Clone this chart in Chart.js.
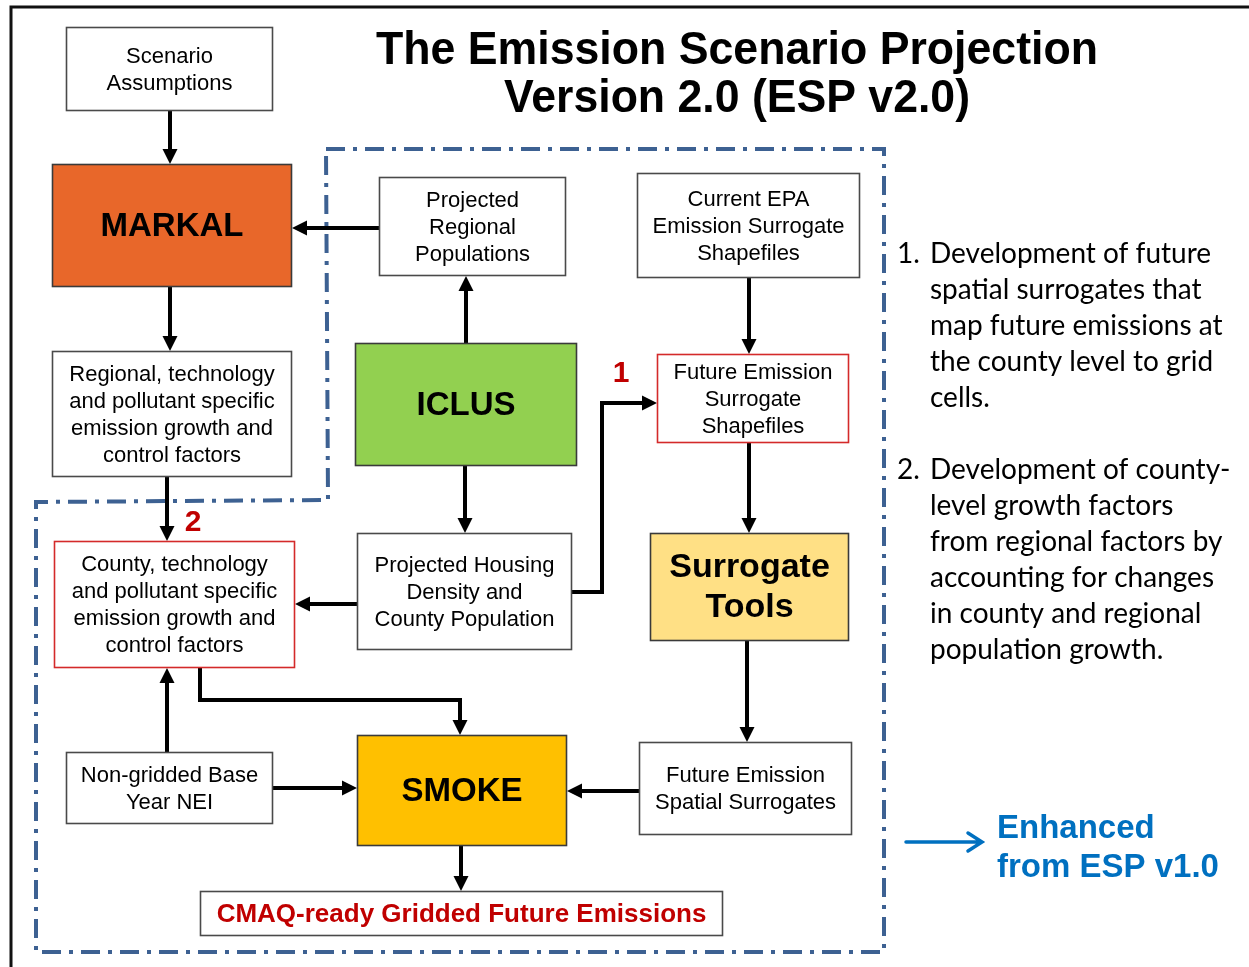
<!DOCTYPE html>
<html>
<head>
<meta charset="utf-8">
<title>ESP v2.0</title>
<script src="https://cdn.jsdelivr.net/npm/chart.js@4.4.1/dist/chart.umd.min.js"></script>
<style>
  html, body { margin: 0; padding: 0; background: #fff; }
  #wrap { width: 1249px; height: 967px; }
</style>
</head>
<body>
<div id="wrap"><canvas id="flow" width="1249" height="967"></canvas></div>
<script>
// --- diagram content (coordinates in axis units, y grows downward) ---
var boxLabels = [
  ['Scenario', 'Assumptions'],
  ['MARKAL'],
  ['Projected', 'Regional', 'Populations'],
  ['Current EPA', 'Emission Surrogate', 'Shapefiles'],
  ['Regional, technology', 'and pollutant specific', 'emission growth and', 'control factors'],
  ['ICLUS'],
  ['Future Emission', 'Surrogate', 'Shapefiles'],
  ['County, technology', 'and pollutant specific', 'emission growth and', 'control factors'],
  ['Projected Housing', 'Density and', 'County Population'],
  ['Surrogate', 'Tools'],
  ['Non-gridded Base', 'Year NEI'],
  ['SMOKE'],
  ['Future Emission', 'Spatial Surrogates'],
  ['CMAQ-ready Gridded Future Emissions']
];
var boxLeft   = [66, 52, 379, 637, 52, 355, 657, 54, 357, 650, 66, 357, 639, 200];
var boxTop    = [27, 164, 177, 173, 351, 343, 354, 541, 533, 533, 752, 735, 742, 891];
var boxRight  = [273, 292, 566, 860, 292, 577, 849, 295, 572, 849, 273, 567, 852, 723];
var boxBottom = [111, 287, 276, 278, 477, 466, 443, 668, 650, 641, 824, 846, 835, 936];
var boxKind   = ['plain', 'markal', 'plain', 'plain', 'plain', 'iclus', 'red', 'red', 'plain', 'tools', 'plain', 'smoke', 'plain', 'cmaq'];

// arrows: polyline points, arrowhead at the last point
var arrowPaths = [
  [[170, 111], [170, 164]],
  [[379, 228], [292, 228]],
  [[170, 287], [170, 351]],
  [[466, 343], [466, 276]],
  [[749, 278], [749, 354]],
  [[167, 477], [167, 541]],
  [[465, 466], [465, 533]],
  [[572, 592], [602, 592], [602, 403], [657, 403]],
  [[357, 604], [295, 604]],
  [[749, 443], [749, 533]],
  [[200, 668], [200, 700], [460, 700], [460, 735]],
  [[167, 752], [167, 668]],
  [[273, 788], [357, 788]],
  [[747, 641], [747, 742]],
  [[639, 791], [567, 791]],
  [[461, 846], [461, 891]]
];

// enhanced region outline (dash-dot)
var regionX = [326, 884, 884, 36, 36, 328, 326];
var regionY = [149, 149, 952, 952, 502, 500, 149];

var titleLines = ['The Emission Scenario Projection', 'Version 2.0 (ESP v2.0)'];
var markerLabels = ['1', '2'];
var markerX = [621, 193];
var markerY = [374, 523];

var noteNumbers = ['1.', '2.'];
var noteLines = [
  ['Development of future', 'spatial surrogates that', 'map future emissions at', 'the county level to grid', 'cells.'],
  ['Development of county-', 'level growth factors', 'from regional factors by', 'accounting for changes', 'in county and regional', 'population growth.']
];
var noteTop = [254, 470];
var legendLines = ['Enhanced', 'from ESP v1.0'];

// --- styles ---
var kindStyle = {
  plain:  { fill: '#ffffff', stroke: '#4a4a4a', font: '22px "Liberation Sans", Arial, sans-serif', color: '#000', lh: 27 },
  red:    { fill: '#ffffff', stroke: '#d42a2a', font: '22px "Liberation Sans", Arial, sans-serif', color: '#000', lh: 27 },
  markal: { fill: '#e8672a', stroke: '#3a3a3a', font: 'bold 33px "Liberation Sans", Arial, sans-serif', color: '#000', lh: 40 },
  iclus:  { fill: '#92d050', stroke: '#3a3a3a', font: 'bold 33px "Liberation Sans", Arial, sans-serif', color: '#000', lh: 40 },
  tools:  { fill: '#ffe085', stroke: '#3a3a3a', font: 'bold 34px "Liberation Sans", Arial, sans-serif', color: '#000', lh: 40 },
  smoke:  { fill: '#ffc000', stroke: '#3a3a3a', font: 'bold 33px "Liberation Sans", Arial, sans-serif', color: '#000', lh: 40 },
  cmaq:   { fill: '#ffffff', stroke: '#4a4a4a', font: 'bold 26px "Liberation Sans", Arial, sans-serif', color: '#c00000', lh: 27 }
};

function drawArrowHead(ctx, x0, y0, x1, y1, len, half){
  var a = Math.atan2(y1 - y0, x1 - x0);
  ctx.beginPath();
  ctx.moveTo(x1, y1);
  ctx.lineTo(x1 - len*Math.cos(a) + half*Math.sin(a), y1 - len*Math.sin(a) - half*Math.cos(a));
  ctx.lineTo(x1 - len*Math.cos(a) - half*Math.sin(a), y1 - len*Math.sin(a) + half*Math.cos(a));
  ctx.closePath();
  ctx.fill();
}

var flowPlugin = {
  id: 'flow',
  afterDraw: function(chart){
    var ctx = chart.ctx;
    var sx = chart.scales.x, sy = chart.scales.y;
    function px(v){ return sx.getPixelForValue(v); }
    function py(v){ return sy.getPixelForValue(v); }
    ctx.save();

    // outer frame (top + left only visible)
    ctx.strokeStyle = '#111';
    ctx.lineWidth = 3;
    ctx.beginPath();
    ctx.moveTo(px(11), py(980));
    ctx.lineTo(px(11), py(7));
    ctx.lineTo(px(1260), py(7));
    ctx.stroke();

    // dash-dot region
    ctx.strokeStyle = '#3d6192';
    ctx.lineWidth = 4;
    ctx.setLineDash([19, 8, 4, 8]);
    ctx.beginPath();
    regionX.forEach(function(x, i){
      if(i === 0) ctx.moveTo(px(x), py(regionY[i])); else ctx.lineTo(px(x), py(regionY[i]));
    });
    ctx.stroke();
    ctx.setLineDash([]);

    // arrows
    ctx.strokeStyle = '#000';
    ctx.fillStyle = '#000';
    ctx.lineWidth = 4;
    ctx.lineJoin = 'miter';
    arrowPaths.forEach(function(path){
      var pts = path.map(function(p){ return [px(p[0]), py(p[1])]; });
      var n = pts.length;
      var a = pts[n-2], b = pts[n-1];
      var d = Math.hypot(b[0]-a[0], b[1]-a[1]);
      var endX = b[0] - (b[0]-a[0]) / d * 12, endY = b[1] - (b[1]-a[1]) / d * 12;
      ctx.beginPath();
      ctx.moveTo(pts[0][0], pts[0][1]);
      for(var i = 1; i < n-1; i++) ctx.lineTo(pts[i][0], pts[i][1]);
      ctx.lineTo(endX, endY);
      ctx.stroke();
      drawArrowHead(ctx, a[0], a[1], b[0], b[1], 15, 7.5);
    });

    // boxes
    boxLabels.forEach(function(lines, i){
      var st = kindStyle[boxKind[i]];
      var x0 = px(boxLeft[i]), y0 = py(boxTop[i]);
      var w = px(boxRight[i]) - x0, h = py(boxBottom[i]) - y0;
      ctx.fillStyle = st.fill;
      ctx.fillRect(x0, y0, w, h);
      ctx.strokeStyle = st.stroke;
      ctx.lineWidth = 1.6;
      ctx.strokeRect(x0 + 0.5, y0 + 0.5, w - 1, h - 1);
      ctx.fillStyle = st.color;
      ctx.font = st.font;
      ctx.textAlign = 'center';
      ctx.textBaseline = 'middle';
      var cx = x0 + w/2, cy = y0 + h/2;
      var start = cy - (lines.length - 1) * st.lh / 2;
      lines.forEach(function(t, k){ ctx.fillText(t, cx, start + k*st.lh + 1); });
    });

    // numbered markers
    ctx.fillStyle = '#c00000';
    ctx.font = 'bold 30px "Liberation Sans", Arial, sans-serif';
    markerLabels.forEach(function(t, i){ ctx.fillText(t, px(markerX[i]), py(markerY[i])); });

    // title
    ctx.fillStyle = '#000';
    ctx.font = 'bold 46px "Liberation Sans", Arial, sans-serif';
    ctx.fillText(titleLines[0], px(737), py(51), 722);
    ctx.fillText(titleLines[1], px(737), py(99), 466);

    // notes
    ctx.textAlign = 'left';
    ctx.font = '28px Lato, "Open Sans", sans-serif';
    noteLines.forEach(function(lines, i){
      ctx.fillText(noteNumbers[i], px(897), py(noteTop[i]));
      lines.forEach(function(t, k){ ctx.fillText(t, px(930), py(noteTop[i] + k*36)); });
    });

    // legend
    ctx.strokeStyle = '#0070c0';
    ctx.lineWidth = 3.5;
    ctx.lineCap = 'round';
    ctx.beginPath();
    ctx.moveTo(px(906), py(842)); ctx.lineTo(px(980), py(842));
    ctx.moveTo(px(968), py(833)); ctx.lineTo(px(982), py(842)); ctx.lineTo(px(968), py(851));
    ctx.stroke();
    ctx.fillStyle = '#0070c0';
    ctx.font = 'bold 33px "Liberation Sans", Arial, sans-serif';
    ctx.fillText(legendLines[0], px(997), py(829));
    ctx.fillText(legendLines[1], px(997), py(868));

    ctx.restore();
  }
};

new Chart(document.getElementById('flow').getContext('2d'), {
  type: 'scatter',
  data: { datasets: [{ data: [], pointRadius: 0 }] },
  options: {
    responsive: false,
    animation: false,
    layout: { padding: 0 },
    plugins: { legend: { display: false }, tooltip: { enabled: false } },
    scales: {
      x: { type: 'linear', min: 0, max: 1249, display: false },
      y: { type: 'linear', min: 0, max: 967, reverse: true, display: false }
    }
  },
  plugins: [flowPlugin]
});
</script>
</body>
</html>
